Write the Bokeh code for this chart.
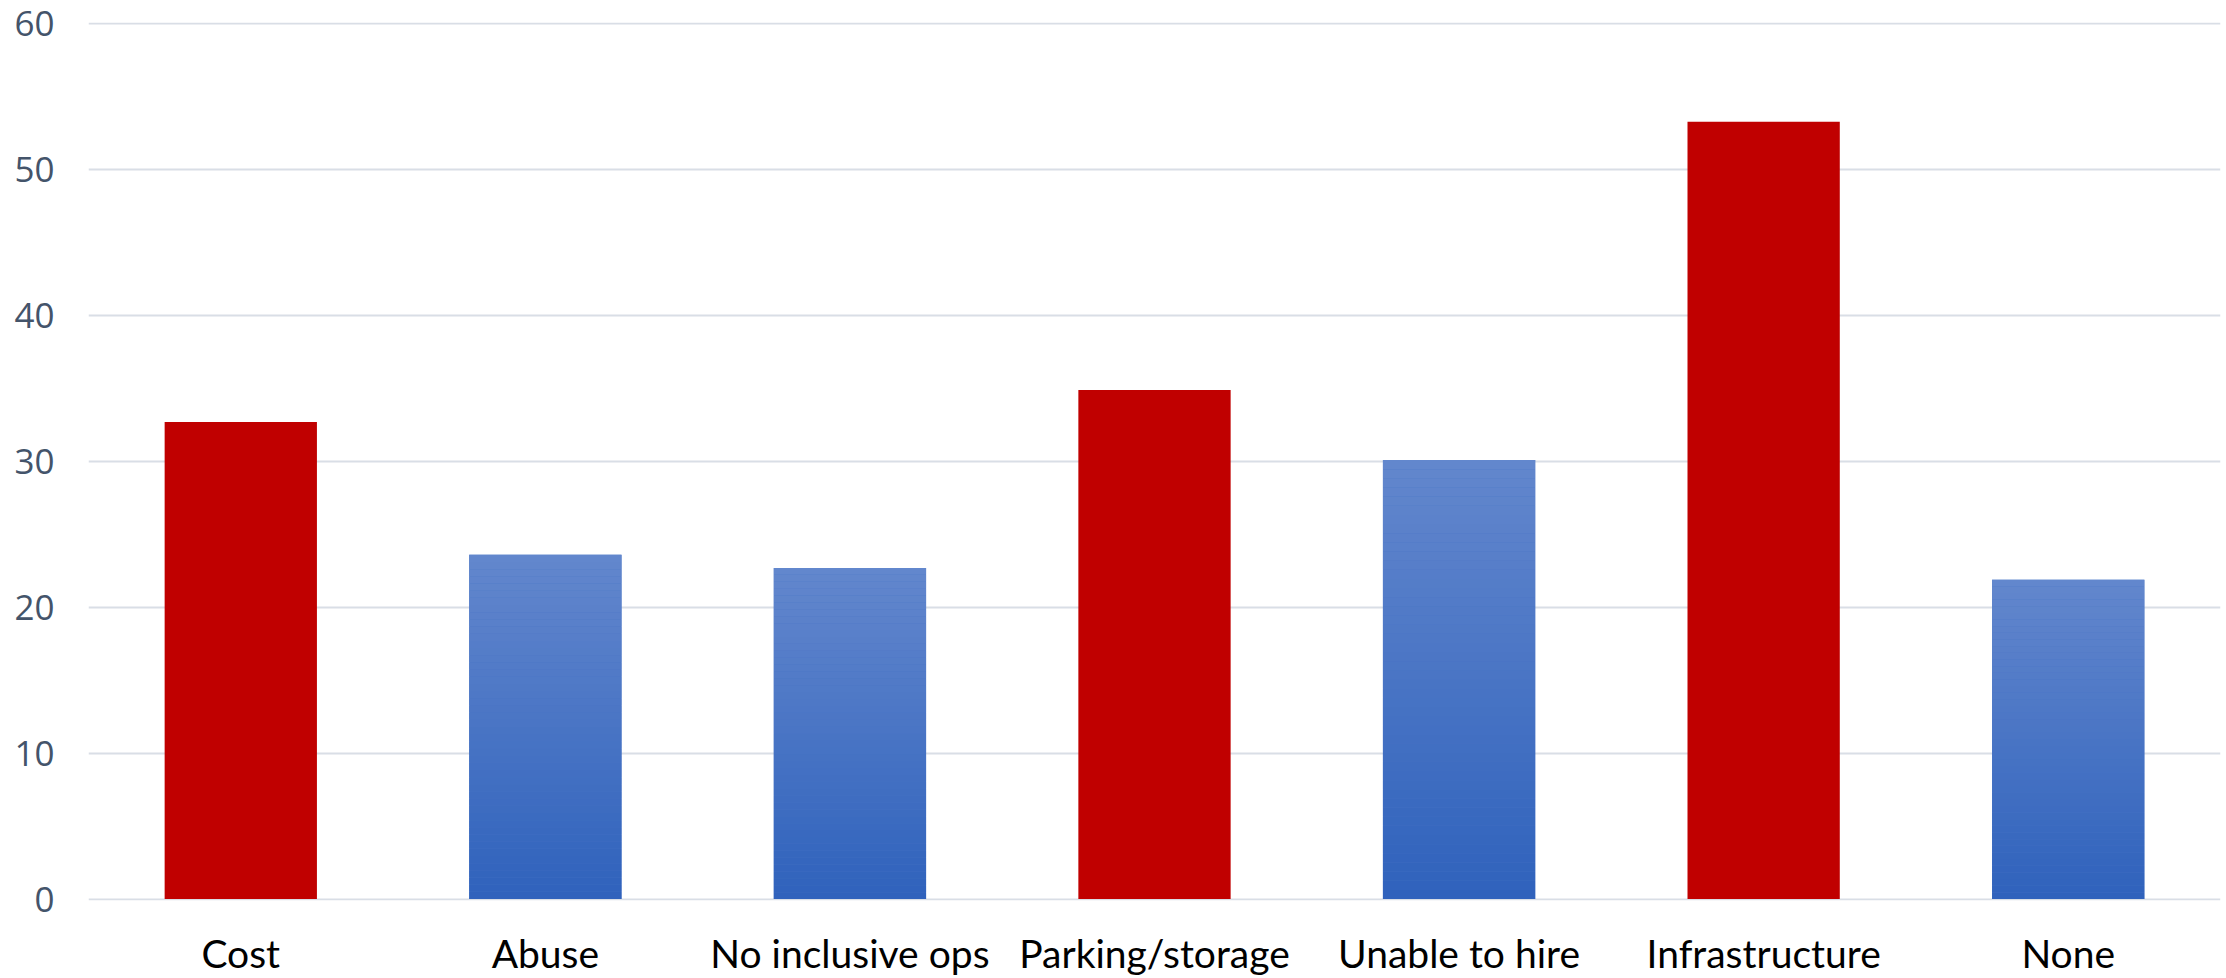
from bokeh.plotting import figure
from bokeh.models import FactorRange, Range1d, FixedTicker, ColumnDataSource
from bokeh.embed import file_html
from bokeh.resources import INLINE

# Reported barriers (percent of respondents)
categories = ["Cost", "Abuse", "No inclusive ops", "Parking/storage",
              "Unable to hire", "Infrastructure", "None"]
values = [32.7, 23.6, 22.7, 34.9, 30.1, 53.3, 21.9]
highlighted = [True, False, False, True, False, True, False]
y_ticks = [0, 10, 20, 30, 40, 50, 60]

RED = "#C00000"
BLUE_BOTTOM = (47, 98, 188)
BLUE_TOP = (99, 135, 205)
GRADIENT_STEPS = 48

p = figure(
    x_range=FactorRange(*categories, range_padding=0),
    y_range=Range1d(-0.1, 60.1),
    width=2226, height=978,
    output_backend="svg", toolbar_location=None,
    min_border_left=88, min_border_right=6,
    min_border_top=22, min_border_bottom=72,
)
p.outline_line_color = None
p.background_fill_color = "white"
p.border_fill_color = "white"

# Red bars: plain fill
red_src = ColumnDataSource(dict(
    x=[c for c, h in zip(categories, highlighted) if h],
    top=[v for v, h in zip(values, highlighted) if h],
))
p.vbar(x="x", top="top", bottom=0, width=0.5, source=red_src,
       fill_color=RED, line_color=None)

# Blue bars: vertical gradient built from thin stacked slices
def mix(a, b, t):
    r, g, bl = (round(a[k] + (b[k] - a[k]) * t) for k in range(3))
    return f"#{r:02x}{g:02x}{bl:02x}"

blue_cats = [c for c, h in zip(categories, highlighted) if not h]
blue_vals = [v for v, h in zip(values, highlighted) if not h]

p.vbar(x=blue_cats, top=blue_vals, bottom=0, width=0.5,
       fill_color=mix(BLUE_BOTTOM, BLUE_TOP, 0.5), line_color=None)

xs, bottoms, tops, colors = [], [], [], []
for c, v in zip(blue_cats, blue_vals):
    for i in range(GRADIENT_STEPS):
        xs.append(c)
        bottoms.append(v * i / GRADIENT_STEPS)
        tops.append(v * (i + 1) / GRADIENT_STEPS)
        colors.append(mix(BLUE_BOTTOM, BLUE_TOP, (i + 0.5) / GRADIENT_STEPS))
p.vbar(x=xs, top=tops, bottom=bottoms, width=0.5,
       fill_color=colors, line_color=None)

# Axes
p.yaxis.ticker = FixedTicker(ticks=y_ticks)
p.yaxis.axis_line_color = None
p.yaxis.major_tick_line_color = None
p.yaxis.minor_tick_line_color = None
p.yaxis.major_label_standoff = 28
p.yaxis.major_label_text_font = "Open Sans"
p.yaxis.major_label_text_font_size = "35px"
p.yaxis.major_label_text_color = "#44546A"

p.xaxis.axis_line_color = None
p.xaxis.major_tick_line_color = None
p.xaxis.minor_tick_line_color = None
p.xaxis.major_label_standoff = 23
p.xaxis.major_label_text_font = "Lato"
p.xaxis.major_label_text_font_size = "39px"
p.xaxis.major_label_text_color = "black"

p.xgrid.grid_line_color = None
p.ygrid.grid_line_color = "#D9DEE6"
p.ygrid.grid_line_width = 2

open("out.html", "w").write(file_html(p, INLINE))
